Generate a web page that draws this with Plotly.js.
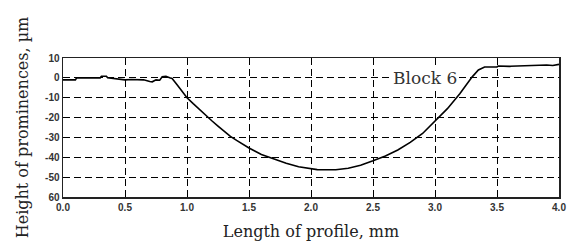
<!DOCTYPE html>
<html><head><meta charset="utf-8">
<script src="https://cdn.plot.ly/plotly-3.0.1.min.js"></script>
<style>html,body{margin:0;padding:0;background:#fff;}#c{width:567px;height:245px;}</style>
</head><body><div id="c"></div>
<script>
const profileX = [0, 0.02, 0.1, 0.11, 0.3, 0.31, 0.35, 0.36, 0.45, 0.5, 0.55, 0.6, 0.65, 0.7, 0.72, 0.75, 0.78, 0.8, 0.83, 0.86, 0.88, 0.92, 0.96, 1.0, 1.05, 1.1, 1.15, 1.2, 1.25, 1.3, 1.35, 1.4, 1.5, 1.6, 1.7, 1.8, 1.9, 2.0, 2.05, 2.1, 2.2, 2.3, 2.4, 2.5, 2.6, 2.7, 2.8, 2.9, 3.0, 3.1, 3.2, 3.3, 3.35, 3.4, 3.5, 3.51, 3.6, 3.7, 3.8, 3.9, 3.95, 4.0];
const profileY = [-1, -1, -1, 0, 0, 0.8, 0.8, 0, -0.5, -1, -0.8, -1, -1, -1.8, -2, -1, -1.2, 0.5, 0.8, 0, -0.3, -3.5, -6.8, -10, -13, -16, -19, -21.6, -24.3, -26.9, -29.5, -31.5, -35.3, -38.6, -41, -43, -44.8, -45.8, -46.2, -46.3, -46.3, -45.5, -44, -41.8, -39.3, -36.3, -32.5, -28, -22, -15.5, -8, 0.5, 4, 5.5, 5.5, 6, 5.8, 6, 6.2, 6.5, 6.2, 6.8];
const xTicks = [0, 0.5, 1, 1.5, 2, 2.5, 3, 3.5, 4];
const xTickText = ["0.0", "0.5", "1.0", "1.5", "2.0", "2.5", "3.0", "3.5", "4.0"];
const yTicks = [10, 0, -10, -20, -30, -40, -50, -60];
const yTickText = ["10", "0", "-10", "-20", "-30", "-40", "-50", "60"];
const xTitle = "Length of profile, mm";
const yTitle = "Height of prominences, µm";
const label = "Block 6";

const tickFont = {family: "Liberation Sans, Arial, sans-serif", size: 10, color: "#333", weight: "bold"};
const serif = "DejaVu Serif, serif";

Plotly.newPlot("c", [{
  x: profileX, y: profileY, type: "scatter", mode: "lines",
  line: {color: "#000", width: 1.6}, hoverinfo: "skip"
}], {
  width: 567, height: 245,
  margin: {l: 63, r: 8, t: 58, b: 48},
  paper_bgcolor: "#fff", plot_bgcolor: "#fff",
  showlegend: false,
  xaxis: {
    range: [0, 4], tickvals: xTicks, ticktext: xTickText, tickfont: tickFont,
    showgrid: true, gridcolor: "#000", griddash: "7px,4px", gridwidth: 1,
    zeroline: false, showline: true, linecolor: "#222", linewidth: 1.5, mirror: true,
    ticks: "", ticklen: 0,
    title: {text: xTitle, font: {family: serif, size: 16, color: "#222"}, standoff: 14},
    automargin: false
  },
  yaxis: {
    range: [-60, 10], tickvals: yTicks, ticktext: yTickText, tickfont: tickFont,
    showgrid: true, gridcolor: "#000", griddash: "7px,4px", gridwidth: 1,
    zeroline: false, showline: true, linecolor: "#222", linewidth: 1.5, mirror: true,
    ticks: "", ticklen: 0,
    title: {text: yTitle, font: {family: serif, size: 16, color: "#222"}, standoff: 12},
    automargin: false
  },
  annotations: [{
    x: 2.92, y: 0, xref: "x", yref: "y", text: label, showarrow: false,
    font: {family: serif, size: 17, color: "#333"}, bgcolor: "#fff",
    xanchor: "center", yanchor: "middle"
  }]
}, {staticPlot: true, displayModeBar: false});
</script>
</body></html>
